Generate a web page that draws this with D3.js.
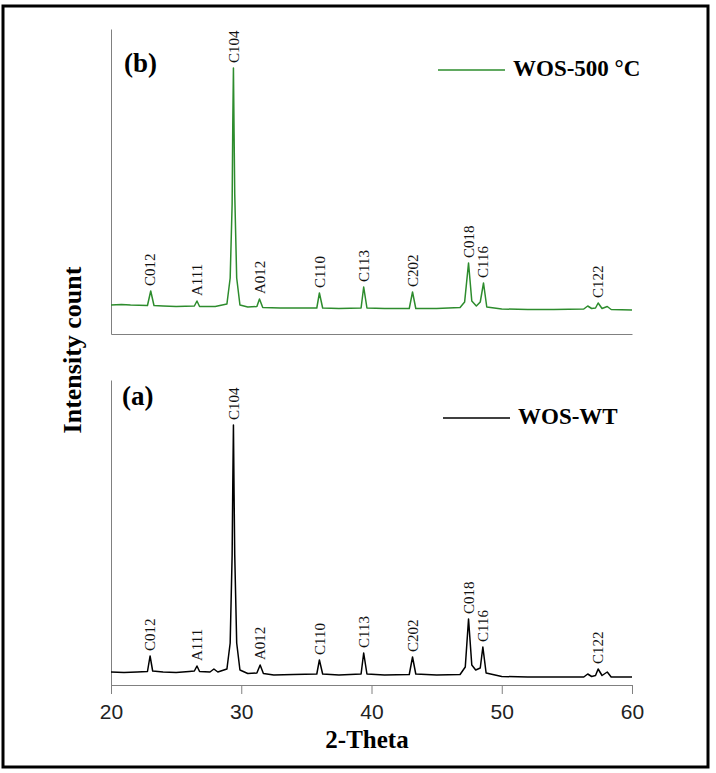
<!DOCTYPE html>
<html>
<head>
<meta charset="utf-8">
<script src="https://cdn.jsdelivr.net/npm/d3@7"></script>
<style>
  body { margin: 0; background: #fff; }
  svg { display: block; }
</style>
</head>
<body>
<svg id="chart"></svg>
<script>
// Pattern (a): WOS-WT
var wtTheta = [20, 21, 22, 22.8, 23.0, 23.2, 24, 25, 26, 26.4, 26.6, 26.8, 27.6, 27.9, 28.2, 28.9,
  29.15, 29.3, 29.35, 29.4, 29.45, 29.5, 29.65, 29.9, 30.5, 31.2, 31.45, 31.7, 32.5, 34, 35.8, 36.0,
  36.25, 37.5, 39.2, 39.4, 39.65, 41, 42.9, 43.15, 43.4, 45, 46.8, 47.2, 47.45, 47.7, 48.0, 48.35,
  48.55, 48.8, 50, 52, 54, 56.3, 56.6, 56.9, 57.2, 57.4, 57.7, 58.1, 58.4, 60];
var wtCount = [130, 125, 130, 135, 290, 140, 130, 125, 135, 140, 190, 135, 130, 160, 130, 160,
  420, 1300, 2000, 2600, 1900, 1300, 420, 150, 115, 120, 200, 115, 100, 105, 110, 250,
  110, 100, 110, 320, 110, 100, 105, 280, 110, 100, 105, 180, 660, 200, 150, 170,
  380, 120, 85, 80, 80, 80, 110, 85, 95, 160, 95, 130, 80, 80];

// Pattern (b): WOS-500 °C
var hotTheta = [20, 20.8, 21.5, 22.8, 23.05, 23.3, 24, 25, 26.4, 26.6, 26.8, 28, 28.9,
  29.15, 29.3, 29.35, 29.4, 29.45, 29.5, 29.65, 29.9, 30.5, 31.2, 31.4, 31.65, 33, 35.8, 36.0,
  36.25, 37.5, 39.2, 39.4, 39.65, 41, 42.9, 43.15, 43.4, 45, 46.8, 47.15, 47.45, 47.7, 48.05, 48.35,
  48.6, 48.85, 50, 52, 54, 56.3, 56.6, 56.9, 57.2, 57.4, 57.7, 58.1, 58.4, 60];
var hotCount = [290, 295, 290, 285, 430, 285, 280, 275, 280, 330, 275, 275, 300,
  560, 1300, 2100, 2660, 2000, 1400, 560, 290, 270, 275, 350, 265, 260, 260, 410,
  260, 255, 260, 470, 260, 255, 255, 420, 255, 255, 265, 320, 710, 330, 280, 320,
  510, 270, 250, 245, 245, 250, 280, 255, 260, 310, 255, 275, 245, 240];

// Peak assignments
var peakNames = ["C012", "A111", "C104", "A012", "C110", "C113", "C202", "C018", "C116", "C122"];
var peakTheta = [23.0, 26.6, 29.4, 31.45, 36.0, 39.4, 43.15, 47.45, 48.55, 57.4];

var xTicks = [20, 30, 40, 50, 60];

var serif = "'Liberation Serif', 'Times New Roman', serif";
var sans = "'Liberation Sans', Arial, sans-serif";

var width = 716, height = 773;
var svg = d3.select("#chart").attr("width", width).attr("height", height);

svg.append("rect")
  .attr("x", 3).attr("y", 6).attr("width", 705).attr("height", 761)
  .attr("fill", "#fff").attr("stroke", "#000").attr("stroke-width", 3);

var xScale = d3.scaleLinear().domain([20, 60]).range([111, 632]);

// Two stacked panels sharing the x scale
var panels = [
  { theta: hotTheta, count: hotCount, top: 29, bottom: 334, color: "#2d8c2d",
    letter: "(b)", letterX: 124, letterY: 72, legend: "WOS-500 °C", legendX: 438, legendY: 70, ticks: false },
  { theta: wtTheta, count: wtCount, top: 380, bottom: 685, color: "#000",
    letter: "(a)", letterX: 122, letterY: 405, legend: "WOS-WT", legendX: 443, legendY: 418, ticks: true }
];

panels.forEach(function(p) {
  var yScale = d3.scaleLinear().domain([0, 3050]).range([p.bottom, p.top]);
  var pts = p.theta.map(function(t, i) { return [t, p.count[i]]; });

  // axes
  var xAxis = d3.axisBottom(xScale).tickSizeOuter(0);
  if (p.ticks) {
    xAxis.tickValues(xTicks).tickSize(9).tickPadding(10).tickFormat(d3.format("d"));
  } else {
    xAxis.tickValues([]);
  }
  var gx = svg.append("g")
    .attr("transform", "translate(0," + p.bottom + ")")
    .call(xAxis);
  gx.selectAll("path, line").attr("stroke", "#808080");
  gx.selectAll("text").attr("font-family", sans).attr("font-size", 21).attr("fill", "#222");

  var gy = svg.append("g")
    .attr("transform", "translate(" + xScale(20) + ",0)")
    .call(d3.axisLeft(yScale).tickValues([]).tickSizeOuter(0));
  gy.select("path").attr("stroke", "#808080");

  // pattern
  svg.append("path")
    .datum(pts)
    .attr("fill", "none")
    .attr("stroke", p.color)
    .attr("stroke-width", 1.5)
    .attr("stroke-linejoin", "round")
    .attr("d", d3.line().x(function(d) { return xScale(d[0]); }).y(function(d) { return yScale(d[1]); }));

  // peak labels above local maxima
  peakNames.forEach(function(name, i) {
    var t = peakTheta[i];
    var top = d3.max(pts.filter(function(d) { return Math.abs(d[0] - t) < 0.2; }), function(d) { return d[1]; });
    var x = xScale(t), y = yScale(top) - 5;
    svg.append("text")
      .attr("transform", "translate(" + x + "," + y + ") rotate(-90)")
      .attr("dy", "0.35em")
      .attr("font-family", serif)
      .attr("font-size", 15)
      .attr("fill", "#111")
      .text(name);
  });

  svg.append("text")
    .attr("x", p.letterX).attr("y", p.letterY)
    .attr("font-family", serif).attr("font-weight", "bold").attr("font-size", 27)
    .text(p.letter);

  // legend
  svg.append("line")
    .attr("x1", p.legendX).attr("x2", p.legendX + 67)
    .attr("y1", p.legendY).attr("y2", p.legendY)
    .attr("stroke", p.color).attr("stroke-width", 1.5);
  svg.append("text")
    .attr("x", p.legendX + 75).attr("y", p.legendY + 6)
    .attr("font-family", serif).attr("font-weight", "bold").attr("font-size", 23)
    .text(p.legend);
});

// axis titles
svg.append("text")
  .attr("x", 367).attr("y", 748)
  .attr("text-anchor", "middle")
  .attr("font-family", serif).attr("font-weight", "bold").attr("font-size", 25)
  .text("2-Theta");

svg.append("text")
  .attr("transform", "translate(81,350) rotate(-90)")
  .attr("text-anchor", "middle")
  .attr("font-family", serif).attr("font-weight", "bold").attr("font-size", 26)
  .text("Intensity count");
</script>
</body>
</html>
